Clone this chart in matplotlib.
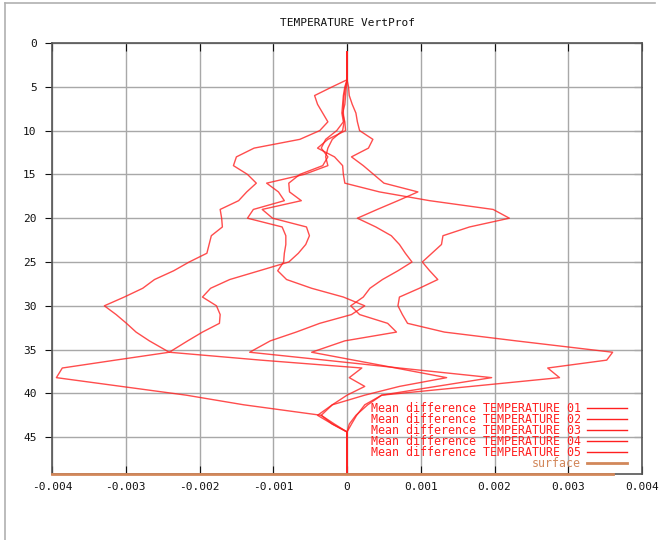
import numpy as np
import matplotlib
matplotlib.use("Agg")
import matplotlib.pyplot as plt
from matplotlib.lines import Line2D

# depth levels (model level index)
depth = [1, 2, 3, 4.2, 5, 6, 7, 8, 9, 10, 11, 12, 13, 14, 15, 16, 17, 18, 19, 20,
         21, 22, 23, 24, 25, 26, 27, 28, 29, 30, 31, 32, 33, 34, 35.3, 36.2, 37.1,
         38.2, 39.2, 40.2, 41.3, 42.5, 43.5, 44.4, 46, 48, 49.2]

mdiff01 = [0, 0, 0, 0, -0.0002, -0.00044, -0.0004, -0.00033, -0.00026, -0.00037,
           -0.00064, -0.00126, -0.0015, -0.00154, -0.00135, -0.00123, -0.00136,
           -0.00147, -0.00172, -0.0017, -0.00169, -0.00184, -0.00187, -0.0019,
           -0.00214, -0.00235, -0.00261, -0.00277, -0.00302, -0.00329, -0.00313,
           -0.00299, -0.00286, -0.00268, -0.00241, -0.00314, -0.00386, -0.00394,
           -0.00306, -0.00218, -0.0014, -0.00035, -0.0002, 0, 0, 0, 0]
mdiff02 = [0, 0, 0, 0, -0.00003, -0.00005, -0.00006, -0.00007, -0.00005, -0.00014,
           -0.00029, -0.00035, -0.00026, -0.00033, -0.00064, -0.00079, -0.00078,
           -0.00062, -0.00115, -0.00101, -0.00055, -0.00051, -0.00056, -0.00066,
           -0.00079, -0.00119, -0.00159, -0.00185, -0.00196, -0.00177, -0.00172,
           -0.00173, -0.00196, -0.00216, -0.00241, -0.00117, 0.0002, 0.00003,
           0.00024, 0.0, -0.0002, -0.0004, -0.0002, 0, 0, 0, 0]
mdiff03 = [0, 0, 0, 0, -0.00002, -0.00004, -0.00005, -0.00005, -0.00004, -0.00006,
           -0.0002, -0.00026, -0.00029, -0.00026, -0.00058, -0.00109, -0.00093,
           -0.00085, -0.00127, -0.00135, -0.00088, -0.00083, -0.00083, -0.00085,
           -0.00086, -0.00094, -0.00082, -0.00048, -0.00005, 0.00024, 0.00006,
           -0.00037, -0.00069, -0.00104, -0.00132, -0.0003, 0.00071, 0.00196,
           0.00121, 0.00047, 0.00024, 0.00013, 0.00006, 0, 0, 0, 0]
mdiff04 = [0, 0, 0, 0, 0.00002, 0.00003, 0.00007, 0.00012, 0.00014, 0.00017,
           0.00035, 0.00029, 0.00006, 0.00022, 0.00036, 0.0005, 0.00096, 0.00069,
           0.00041, 0.00014, 0.00039, 0.0006, 0.00071, 0.00079, 0.00088, 0.00069,
           0.00048, 0.00031, 0.00022, 0.00005, 0.00017, 0.00055, 0.00067, -0.00003,
           -0.00048, 0.00009, 0.00066, 0.00135, 0.00071, 0.00024, -0.0002,
           -0.00035, -0.00017, 0, 0, 0, 0]
mdiff05 = [0, 0, 0, 0, -0.00001, -0.00002, -0.00003, -0.00006, -0.00003, -0.00002,
           -0.00026, -0.0004, -0.00017, -0.00006, -0.00005, -0.00003, 0.00044,
           0.00112, 0.00198, 0.0022, 0.00166, 0.0013, 0.00128, 0.00115, 0.00102,
           0.00112, 0.00123, 0.00098, 0.00071, 0.00069, 0.00075, 0.00082, 0.00132,
           0.00229, 0.0036, 0.00352, 0.00272, 0.00288, 0.00168, 0.00047, 0.00028,
           0.00012, 0.00003, 0, 0, 0, 0]

series = [mdiff01, mdiff02, mdiff03, mdiff04, mdiff05]
labels = ["Mean difference TEMPERATURE 0%d" % i for i in range(1, 6)]

surface_x = [-0.004, 0.0036]
surface_depth = 49.2

xticks = [-0.004, -0.003, -0.002, -0.001, 0, 0.001, 0.002, 0.003, 0.004]
xticklabels = ["-0.004", "-0.003", "-0.002", "-0.001", "0",
               "0.001", "0.002", "0.003", "0.004"]
yticks = [0, 5, 10, 15, 20, 25, 30, 35, 40, 45]

plt.rcParams['font.family'] = ['DejaVu Sans Mono']

fig = plt.figure(figsize=(6.62, 5.40), dpi=100)
ax = fig.add_axes([0.0785, 0.1222, 0.8915, 0.7982])

for vals, lab in zip(series, labels):
    ax.plot(vals, depth, color="#ff2020", lw=1.0, alpha=0.8, label=lab)

ax.plot(surface_x, [surface_depth, surface_depth], color="#d2875a", lw=2,
        label="surface", clip_on=False, zorder=5)

ax.set_xlim(-0.004, 0.004)
ax.set_ylim(surface_depth, 0)
ax.set_xticks(xticks)
ax.set_xticklabels(xticklabels)
ax.set_yticks(yticks)
ax.grid(True, color="#a8a8a8", lw=1)
ax.set_axisbelow(True)

ax.tick_params(axis="x", direction="in", length=6, top=True, labelsize=8,
               color="#111111", labelcolor="#111111", pad=6)
ax.tick_params(axis="y", direction="out", length=5, labelsize=8,
               color="#111111", labelcolor="#111111", pad=6)
# inward ticks on the right edge
sec = ax.secondary_yaxis("right")
sec.set_yticks(yticks)
sec.tick_params(direction="in", length=6, labelright=False, color="#111111")
sec.spines["right"].set_visible(False)

for s in ax.spines.values():
    s.set_color("#555555")
    s.set_linewidth(1.2)

ax.set_title("TEMPERATURE VertProf", fontsize=8, color="#111111", pad=12)

leg = ax.legend(loc="lower right", bbox_to_anchor=(0.985, -0.005), frameon=False,
                markerfirst=False, fontsize=8.4, labelspacing=-0.16,
                handlelength=3.5, handletextpad=0.5, borderaxespad=0.1,
                labelcolor="linecolor")
for h in leg.legend_handles:
    h.set_alpha(1)

# page border lines
fig.add_artist(Line2D([0.0075, 0.99], [0.994, 0.994], color="#b0b0b0", lw=1.2))
fig.add_artist(Line2D([0.0075, 0.0075], [0.0, 0.994], color="#b0b0b0", lw=1.2))

plt.savefig("out.png", dpi=100)
